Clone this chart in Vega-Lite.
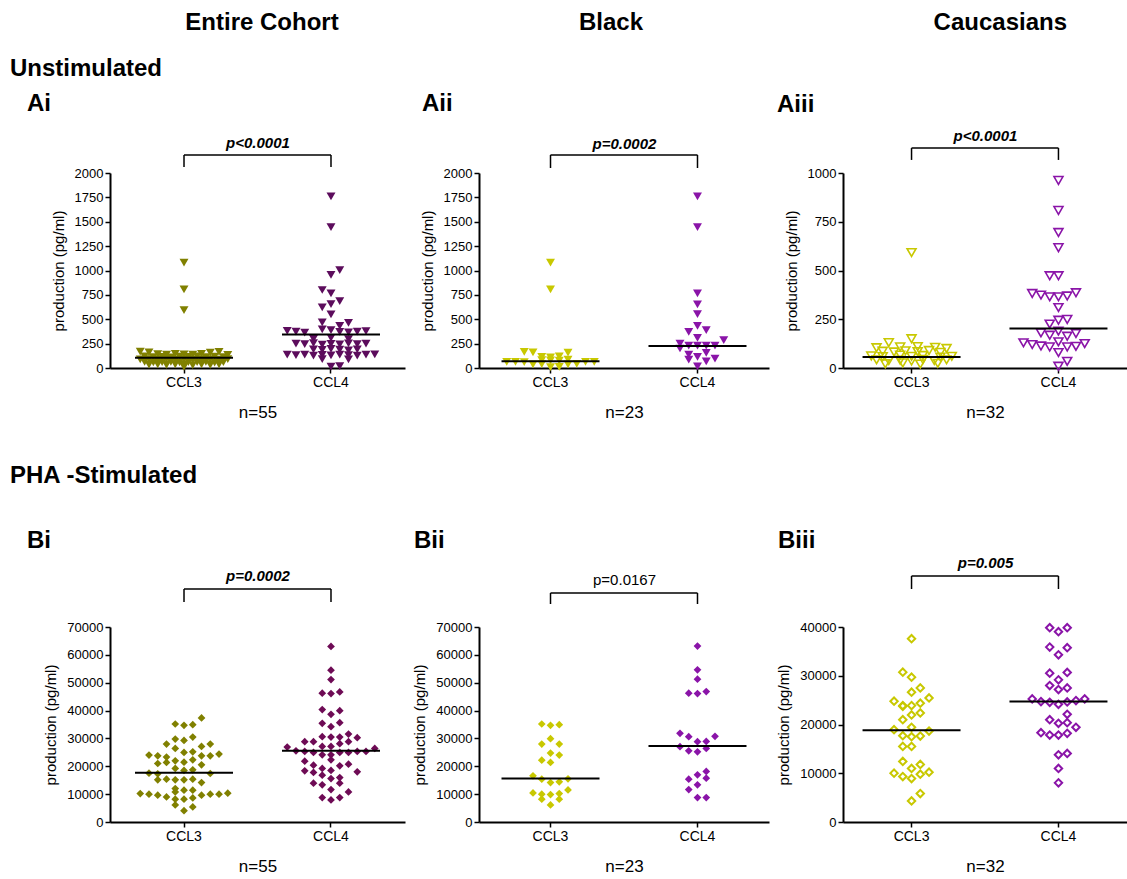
{
"$schema": "https://vega.github.io/schema/vega-lite/v6.json",
"padding": {"left": 10, "top": 11, "right": 0, "bottom": 0},
"bounds": "full",
"spacing": 15,
"resolve": {"scale": {"color": "independent", "xOffset": "independent"}},
"config": {
 "font": "Liberation Sans",
 "view": {"stroke": null},
 "axis": {"grid": false, "domainColor": "#000", "domainWidth": 2, "tickColor": "#000", "tickWidth": 1.5, "tickSize": 5, "labelColor": "#000", "labelFontSize": 13, "titleColor": "#000", "titleFontWeight": "normal"},
 "axisY": {"titleFontSize": 15, "titlePadding": 8, "labelPadding": 2, "labelOverlap": false},
 "axisX": {"labelAngle": 0, "labelFontSize": 14, "titleFontSize": 17, "titlePadding": 15, "labelPadding": 2},
 "title": {"fontSize": 24, "fontWeight": "bold", "color": "#000", "baseline": "alphabetic"}
},
"datasets": {
 "ai": [
{"g":"CCL3","v":1080,"dx":0},{"g":"CCL3","v":806,"dx":0},{"g":"CCL3","v":593,"dx":0},
{"g":"CCL3","v":168,"dx":-5},{"g":"CCL3","v":160,"dx":-4},{"g":"CCL3","v":158,"dx":3},{"g":"CCL3","v":165,"dx":4},
{"g":"CCL3","v":142,"dx":-3},{"g":"CCL3","v":138,"dx":-2},{"g":"CCL3","v":145,"dx":-1},{"g":"CCL3","v":140,"dx":0},{"g":"CCL3","v":136,"dx":1},{"g":"CCL3","v":144,"dx":2},{"g":"CCL3","v":135,"dx":5},
{"g":"CCL3","v":118,"dx":-4.5},{"g":"CCL3","v":112,"dx":-3.5},{"g":"CCL3","v":115,"dx":-2.5},{"g":"CCL3","v":110,"dx":-1.5},{"g":"CCL3","v":117,"dx":-0.5},{"g":"CCL3","v":113,"dx":0.5},{"g":"CCL3","v":119,"dx":1.5},{"g":"CCL3","v":111,"dx":2.5},{"g":"CCL3","v":116,"dx":3.5},{"g":"CCL3","v":112,"dx":4.5},
{"g":"CCL3","v":88,"dx":-5},{"g":"CCL3","v":92,"dx":-4},{"g":"CCL3","v":85,"dx":-3},{"g":"CCL3","v":90,"dx":-2},{"g":"CCL3","v":86,"dx":-1},{"g":"CCL3","v":92,"dx":0},{"g":"CCL3","v":84,"dx":1},{"g":"CCL3","v":89,"dx":2},{"g":"CCL3","v":91,"dx":3},{"g":"CCL3","v":86,"dx":4},{"g":"CCL3","v":90,"dx":5},
{"g":"CCL3","v":62,"dx":-4.5},{"g":"CCL3","v":58,"dx":-3.5},{"g":"CCL3","v":60,"dx":-2.5},{"g":"CCL3","v":64,"dx":-1.5},{"g":"CCL3","v":57,"dx":-0.5},{"g":"CCL3","v":61,"dx":0.5},{"g":"CCL3","v":59,"dx":1.5},{"g":"CCL3","v":63,"dx":2.5},{"g":"CCL3","v":56,"dx":3.5},{"g":"CCL3","v":60,"dx":4.5},
{"g":"CCL3","v":35,"dx":-4},{"g":"CCL3","v":38,"dx":-3},{"g":"CCL3","v":32,"dx":-2},{"g":"CCL3","v":36,"dx":-1},{"g":"CCL3","v":34,"dx":0},{"g":"CCL3","v":30,"dx":1},{"g":"CCL3","v":37,"dx":2},{"g":"CCL3","v":33,"dx":3},{"g":"CCL3","v":36,"dx":4},
{"g":"CCL3","v":12,"dx":0},
{"g":"CCL4","v":1760,"dx":0},{"g":"CCL4","v":1444,"dx":0},{"g":"CCL4","v":1005,"dx":1},{"g":"CCL4","v":954,"dx":0},{"g":"CCL4","v":800,"dx":-1},{"g":"CCL4","v":765,"dx":0},{"g":"CCL4","v":686,"dx":1},{"g":"CCL4","v":655,"dx":0},{"g":"CCL4","v":621,"dx":-1},{"g":"CCL4","v":549,"dx":0},{"g":"CCL4","v":467,"dx":-1},{"g":"CCL4","v":432,"dx":1},{"g":"CCL4","v":463,"dx":2},
{"g":"CCL4","v":380,"dx":-5},{"g":"CCL4","v":372,"dx":-4},{"g":"CCL4","v":362,"dx":-3},{"g":"CCL4","v":395,"dx":-1},{"g":"CCL4","v":388,"dx":0},{"g":"CCL4","v":370,"dx":1},{"g":"CCL4","v":365,"dx":2},{"g":"CCL4","v":372,"dx":3},{"g":"CCL4","v":378,"dx":4},
{"g":"CCL4","v":300,"dx":-2},{"g":"CCL4","v":310,"dx":0},{"g":"CCL4","v":295,"dx":2},
{"g":"CCL4","v":250,"dx":-4},{"g":"CCL4","v":245,"dx":-3},{"g":"CCL4","v":255,"dx":-2},{"g":"CCL4","v":240,"dx":-1},{"g":"CCL4","v":248,"dx":0},{"g":"CCL4","v":242,"dx":1},{"g":"CCL4","v":252,"dx":2},{"g":"CCL4","v":246,"dx":3},{"g":"CCL4","v":250,"dx":4},
{"g":"CCL4","v":190,"dx":-2},{"g":"CCL4","v":185,"dx":-1},{"g":"CCL4","v":195,"dx":0},{"g":"CCL4","v":188,"dx":1},{"g":"CCL4","v":180,"dx":2},{"g":"CCL4","v":192,"dx":3},
{"g":"CCL4","v":138,"dx":-5},{"g":"CCL4","v":132,"dx":-4},{"g":"CCL4","v":136,"dx":-3},{"g":"CCL4","v":128,"dx":-2},{"g":"CCL4","v":135,"dx":-1},{"g":"CCL4","v":130,"dx":0},{"g":"CCL4","v":138,"dx":1},{"g":"CCL4","v":133,"dx":2},{"g":"CCL4","v":127,"dx":3},{"g":"CCL4","v":136,"dx":4},{"g":"CCL4","v":140,"dx":5},
{"g":"CCL4","v":92,"dx":-1},{"g":"CCL4","v":88,"dx":2},
{"g":"CCL4","v":15,"dx":0},{"g":"CCL4","v":20,"dx":1}
 ],
 "aii": [
{"g":"CCL3","v":1080,"dx":0},{"g":"CCL3","v":806,"dx":0},
{"g":"CCL3","v":165,"dx":-3},{"g":"CCL3","v":160,"dx":-2},{"g":"CCL3","v":158,"dx":2},
{"g":"CCL3","v":113,"dx":-1},{"g":"CCL3","v":110,"dx":0},{"g":"CCL3","v":120,"dx":1},
{"g":"CCL3","v":82,"dx":-1},{"g":"CCL3","v":79,"dx":0},{"g":"CCL3","v":76,"dx":1},{"g":"CCL3","v":85,"dx":2},
{"g":"CCL3","v":64,"dx":-5},{"g":"CCL3","v":62,"dx":-4},{"g":"CCL3","v":60,"dx":-3},{"g":"CCL3","v":62,"dx":4},{"g":"CCL3","v":64,"dx":5},
{"g":"CCL3","v":38,"dx":-2},{"g":"CCL3","v":40,"dx":-1},{"g":"CCL3","v":36,"dx":2},{"g":"CCL3","v":42,"dx":3},
{"g":"CCL3","v":10,"dx":0},{"g":"CCL3","v":12,"dx":1},
{"g":"CCL4","v":1760,"dx":0},{"g":"CCL4","v":1444,"dx":0},{"g":"CCL4","v":765,"dx":0},{"g":"CCL4","v":652,"dx":0},{"g":"CCL4","v":552,"dx":0},{"g":"CCL4","v":432,"dx":0},
{"g":"CCL4","v":370,"dx":-1},{"g":"CCL4","v":388,"dx":1},{"g":"CCL4","v":309,"dx":0},{"g":"CCL4","v":285,"dx":3},
{"g":"CCL4","v":250,"dx":-2},{"g":"CCL4","v":200,"dx":-2},{"g":"CCL4","v":230,"dx":-1},{"g":"CCL4","v":230,"dx":0},{"g":"CCL4","v":230,"dx":1},{"g":"CCL4","v":230,"dx":2},
{"g":"CCL4","v":137,"dx":-1},{"g":"CCL4","v":154,"dx":1},{"g":"CCL4","v":86,"dx":-1},{"g":"CCL4","v":69,"dx":1},{"g":"CCL4","v":96,"dx":2},{"g":"CCL4","v":113,"dx":0},{"g":"CCL4","v":17,"dx":0}
 ],
 "aiii": [
{"g":"CCL3","v":592,"dx":0},{"g":"CCL3","v":150,"dx":0},{"g":"CCL3","v":130,"dx":-2.6},
{"g":"CCL3","v":104,"dx":-4},{"g":"CCL3","v":108,"dx":-1.3},{"g":"CCL3","v":110,"dx":0.7},{"g":"CCL3","v":106,"dx":2.7},{"g":"CCL3","v":100,"dx":4},
{"g":"CCL3","v":86,"dx":-3.3},{"g":"CCL3","v":82,"dx":-2},{"g":"CCL3","v":88,"dx":-0.7},{"g":"CCL3","v":84,"dx":0.7},{"g":"CCL3","v":90,"dx":2},{"g":"CCL3","v":80,"dx":3.3},
{"g":"CCL3","v":62,"dx":-4.6},{"g":"CCL3","v":58,"dx":-3.3},{"g":"CCL3","v":66,"dx":-1.3},{"g":"CCL3","v":60,"dx":0},{"g":"CCL3","v":64,"dx":1.3},{"g":"CCL3","v":56,"dx":3.3},{"g":"CCL3","v":60,"dx":4.6},
{"g":"CCL3","v":42,"dx":-4},{"g":"CCL3","v":38,"dx":-2.6},{"g":"CCL3","v":40,"dx":-1.3},{"g":"CCL3","v":36,"dx":0},{"g":"CCL3","v":44,"dx":1.3},{"g":"CCL3","v":38,"dx":2.6},{"g":"CCL3","v":42,"dx":4},
{"g":"CCL3","v":22,"dx":-3},{"g":"CCL3","v":26,"dx":-1},{"g":"CCL3","v":20,"dx":1},{"g":"CCL3","v":24,"dx":3},
{"g":"CCL4","v":962,"dx":0},{"g":"CCL4","v":808,"dx":0},{"g":"CCL4","v":695,"dx":0},{"g":"CCL4","v":617,"dx":0},{"g":"CCL4","v":473,"dx":-1},{"g":"CCL4","v":473,"dx":0},
{"g":"CCL4","v":382,"dx":-3},{"g":"CCL4","v":374,"dx":-2},{"g":"CCL4","v":365,"dx":-1},{"g":"CCL4","v":365,"dx":0},{"g":"CCL4","v":369,"dx":1},{"g":"CCL4","v":386,"dx":2},
{"g":"CCL4","v":310,"dx":0},{"g":"CCL4","v":245,"dx":0},{"g":"CCL4","v":249,"dx":1},{"g":"CCL4","v":225,"dx":-1},
{"g":"CCL4","v":180,"dx":-2},{"g":"CCL4","v":168,"dx":-1},{"g":"CCL4","v":189,"dx":0},{"g":"CCL4","v":163,"dx":1},{"g":"CCL4","v":177,"dx":2},
{"g":"CCL4","v":129,"dx":-4},{"g":"CCL4","v":120,"dx":-3},{"g":"CCL4","v":113,"dx":-2},{"g":"CCL4","v":108,"dx":-1},{"g":"CCL4","v":134,"dx":0},{"g":"CCL4","v":108,"dx":1},{"g":"CCL4","v":111,"dx":2},{"g":"CCL4","v":125,"dx":3},
{"g":"CCL4","v":79,"dx":0},{"g":"CCL4","v":34,"dx":1},{"g":"CCL4","v":9,"dx":0}
 ],
 "bi": [
{"g":"CCL3","v":37340,"dx":2},
{"g":"CCL3","v":35180,"dx":-1},{"g":"CCL3","v":34700,"dx":0},{"g":"CCL3","v":34940,"dx":1},
{"g":"CCL3","v":29780,"dx":-1},{"g":"CCL3","v":29300,"dx":0},{"g":"CCL3","v":30500,"dx":1},
{"g":"CCL3","v":27980,"dx":-2},{"g":"CCL3","v":26420,"dx":-1},{"g":"CCL3","v":27140,"dx":2},{"g":"CCL3","v":27980,"dx":3},
{"g":"CCL3","v":24010,"dx":-4},{"g":"CCL3","v":23770,"dx":-3},{"g":"CCL3","v":23290,"dx":-2},{"g":"CCL3","v":24970,"dx":0},{"g":"CCL3","v":25210,"dx":1},{"g":"CCL3","v":23770,"dx":2},{"g":"CCL3","v":23770,"dx":3},{"g":"CCL3","v":24370,"dx":4},
{"g":"CCL3","v":21370,"dx":-2},{"g":"CCL3","v":21970,"dx":-1},{"g":"CCL3","v":21490,"dx":0},{"g":"CCL3","v":22330,"dx":1},{"g":"CCL3","v":20530,"dx":2},{"g":"CCL3","v":21000,"dx":-3},
{"g":"CCL3","v":19210,"dx":-1},{"g":"CCL3","v":18490,"dx":0},{"g":"CCL3","v":18730,"dx":1},
{"g":"CCL3","v":17530,"dx":-4},{"g":"CCL3","v":17290,"dx":-3},{"g":"CCL3","v":17410,"dx":3},
{"g":"CCL3","v":15370,"dx":-2},{"g":"CCL3","v":15130,"dx":-1},{"g":"CCL3","v":15130,"dx":0},{"g":"CCL3","v":15370,"dx":1},{"g":"CCL3","v":14170,"dx":2},{"g":"CCL3","v":15130,"dx":-3},
{"g":"CCL3","v":12010,"dx":-1},{"g":"CCL3","v":10810,"dx":-1},{"g":"CCL3","v":11410,"dx":0},{"g":"CCL3","v":11410,"dx":1},
{"g":"CCL3","v":10210,"dx":-5},{"g":"CCL3","v":9970,"dx":-4},{"g":"CCL3","v":9610,"dx":-3},{"g":"CCL3","v":9010,"dx":-2},{"g":"CCL3","v":9610,"dx":2},{"g":"CCL3","v":9970,"dx":3},{"g":"CCL3","v":9970,"dx":4},{"g":"CCL3","v":10330,"dx":5},
{"g":"CCL3","v":8170,"dx":-1},{"g":"CCL3","v":8170,"dx":0},{"g":"CCL3","v":8650,"dx":1},
{"g":"CCL3","v":6120,"dx":-1},{"g":"CCL3","v":5400,"dx":1},{"g":"CCL3","v":4080,"dx":0},
{"g":"CCL4","v":63040,"dx":0},{"g":"CCL4","v":54510,"dx":0},{"g":"CCL4","v":51150,"dx":0},
{"g":"CCL4","v":46230,"dx":-1},{"g":"CCL4","v":46110,"dx":0},{"g":"CCL4","v":46710,"dx":1},
{"g":"CCL4","v":40340,"dx":-1},{"g":"CCL4","v":38660,"dx":0},{"g":"CCL4","v":39980,"dx":1},
{"g":"CCL4","v":35420,"dx":-1},{"g":"CCL4","v":34220,"dx":0},{"g":"CCL4","v":35660,"dx":1},
{"g":"CCL4","v":28820,"dx":-3},{"g":"CCL4","v":28820,"dx":-2},{"g":"CCL4","v":30620,"dx":-1},{"g":"CCL4","v":30500,"dx":0},{"g":"CCL4","v":30500,"dx":1},{"g":"CCL4","v":31580,"dx":2},{"g":"CCL4","v":30260,"dx":3},{"g":"CCL4","v":28100,"dx":1},{"g":"CCL4","v":28820,"dx":2},
{"g":"CCL4","v":26900,"dx":-5},{"g":"CCL4","v":25570,"dx":-4},{"g":"CCL4","v":25330,"dx":-3},{"g":"CCL4","v":24970,"dx":-2},{"g":"CCL4","v":27140,"dx":-1},{"g":"CCL4","v":27140,"dx":0},
{"g":"CCL4","v":24130,"dx":-1},{"g":"CCL4","v":24130,"dx":0},{"g":"CCL4","v":24970,"dx":1},{"g":"CCL4","v":24970,"dx":2},{"g":"CCL4","v":25330,"dx":3},{"g":"CCL4","v":25330,"dx":4},{"g":"CCL4","v":26420,"dx":5},
{"g":"CCL4","v":21850,"dx":-3},{"g":"CCL4","v":20410,"dx":-2},{"g":"CCL4","v":19210,"dx":-1},{"g":"CCL4","v":18490,"dx":0},{"g":"CCL4","v":20170,"dx":1},{"g":"CCL4","v":20770,"dx":2},
{"g":"CCL4","v":18370,"dx":-3},{"g":"CCL4","v":17770,"dx":-2},{"g":"CCL4","v":16810,"dx":-1},{"g":"CCL4","v":18010,"dx":3},
{"g":"CCL4","v":13930,"dx":-2},{"g":"CCL4","v":13330,"dx":-1},{"g":"CCL4","v":15610,"dx":0},{"g":"CCL4","v":15970,"dx":1},{"g":"CCL4","v":13930,"dx":1},
{"g":"CCL4","v":11650,"dx":0},{"g":"CCL4","v":10810,"dx":2},
{"g":"CCL4","v":8770,"dx":-1},{"g":"CCL4","v":7920,"dx":0},{"g":"CCL4","v":8770,"dx":1},{"g":"CCL4","v":22330,"dx":0}
 ],
 "bii": [
{"g":"CCL3","v":35180,"dx":-1},{"g":"CCL3","v":34700,"dx":0},{"g":"CCL3","v":34940,"dx":1},
{"g":"CCL3","v":29900,"dx":0},{"g":"CCL3","v":27980,"dx":-1},{"g":"CCL3","v":27980,"dx":1},
{"g":"CCL3","v":24730,"dx":0},{"g":"CCL3","v":24010,"dx":1},{"g":"CCL3","v":22210,"dx":-1},{"g":"CCL3","v":21370,"dx":0},
{"g":"CCL3","v":16570,"dx":-2},{"g":"CCL3","v":15370,"dx":-1},{"g":"CCL3","v":14170,"dx":0},{"g":"CCL3","v":14410,"dx":1},{"g":"CCL3","v":15490,"dx":2},
{"g":"CCL3","v":11530,"dx":2},
{"g":"CCL3","v":10450,"dx":-2},{"g":"CCL3","v":9970,"dx":-1},{"g":"CCL3","v":9850,"dx":0},{"g":"CCL3","v":10210,"dx":1},
{"g":"CCL3","v":8170,"dx":-1},{"g":"CCL3","v":8170,"dx":1},{"g":"CCL3","v":6120,"dx":0},
{"g":"CCL4","v":63160,"dx":0},{"g":"CCL4","v":54630,"dx":0},{"g":"CCL4","v":51270,"dx":0},
{"g":"CCL4","v":46230,"dx":-1},{"g":"CCL4","v":46110,"dx":0},{"g":"CCL4","v":46830,"dx":1},
{"g":"CCL4","v":31820,"dx":-2},{"g":"CCL4","v":30620,"dx":-1},{"g":"CCL4","v":30740,"dx":2},{"g":"CCL4","v":28820,"dx":0},{"g":"CCL4","v":28940,"dx":1},
{"g":"CCL4","v":27020,"dx":-2},{"g":"CCL4","v":25570,"dx":-1},{"g":"CCL4","v":25210,"dx":0},{"g":"CCL4","v":26420,"dx":1},
{"g":"CCL4","v":18130,"dx":1},{"g":"CCL4","v":16930,"dx":0},{"g":"CCL4","v":15730,"dx":1},{"g":"CCL4","v":15370,"dx":-1},
{"g":"CCL4","v":13330,"dx":0},{"g":"CCL4","v":11650,"dx":-1},{"g":"CCL4","v":8770,"dx":0},{"g":"CCL4","v":8770,"dx":1}
 ],
 "biii": [
{"g":"CCL3","v":37600,"dx":0},
{"g":"CCL3","v":30740,"dx":-1},{"g":"CCL3","v":29710,"dx":0},
{"g":"CCL3","v":26620,"dx":0},{"g":"CCL3","v":27510,"dx":1},
{"g":"CCL3","v":24770,"dx":-2},{"g":"CCL3","v":23880,"dx":-1},{"g":"CCL3","v":23880,"dx":0},{"g":"CCL3","v":24360,"dx":1},{"g":"CCL3","v":25450,"dx":2},{"g":"CCL3","v":23740,"dx":-1},
{"g":"CCL3","v":21960,"dx":0},{"g":"CCL3","v":22370,"dx":1},{"g":"CCL3","v":20990,"dx":-1},
{"g":"CCL3","v":18940,"dx":-2},{"g":"CCL3","v":19420,"dx":0},{"g":"CCL3","v":18660,"dx":2},
{"g":"CCL3","v":17700,"dx":-1},{"g":"CCL3","v":17500,"dx":0},{"g":"CCL3","v":17630,"dx":1},
{"g":"CCL3","v":15510,"dx":-1},{"g":"CCL3","v":15510,"dx":0},
{"g":"CCL3","v":12420,"dx":-1},{"g":"CCL3","v":11800,"dx":1},{"g":"CCL3","v":10980,"dx":0},
{"g":"CCL3","v":10020,"dx":-2},{"g":"CCL3","v":9330,"dx":-1},{"g":"CCL3","v":8920,"dx":0},{"g":"CCL3","v":9810,"dx":1},{"g":"CCL3","v":10220,"dx":2},
{"g":"CCL3","v":5830,"dx":1},{"g":"CCL3","v":4320,"dx":0},
{"g":"CCL4","v":39860,"dx":-1},{"g":"CCL4","v":39040,"dx":0},{"g":"CCL4","v":39860,"dx":1},
{"g":"CCL4","v":35880,"dx":-1},{"g":"CCL4","v":35750,"dx":1},{"g":"CCL4","v":34300,"dx":0},
{"g":"CCL4","v":30530,"dx":-1},{"g":"CCL4","v":30670,"dx":1},{"g":"CCL4","v":29160,"dx":0},
{"g":"CCL4","v":27990,"dx":-1},{"g":"CCL4","v":27170,"dx":0},{"g":"CCL4","v":27510,"dx":1},
{"g":"CCL4","v":25250,"dx":-3},{"g":"CCL4","v":24700,"dx":-2},{"g":"CCL4","v":24560,"dx":-1},{"g":"CCL4","v":24150,"dx":0},{"g":"CCL4","v":24630,"dx":1},{"g":"CCL4","v":24900,"dx":2},{"g":"CCL4","v":25250,"dx":3},
{"g":"CCL4","v":22090,"dx":1},
{"g":"CCL4","v":20990,"dx":-1},{"g":"CCL4","v":20240,"dx":0},{"g":"CCL4","v":20380,"dx":1},{"g":"CCL4","v":19420,"dx":2},
{"g":"CCL4","v":18320,"dx":-2},{"g":"CCL4","v":17840,"dx":-1},{"g":"CCL4","v":17840,"dx":0},{"g":"CCL4","v":18180,"dx":1},
{"g":"CCL4","v":13790,"dx":0},{"g":"CCL4","v":14060,"dx":1},{"g":"CCL4","v":10980,"dx":0},{"g":"CCL4","v":8030,"dx":0}
 ]
},
"vconcat": [
 {"hconcat": [
   {"width": 304, "height": 1, "title": {"text": "Entire Cohort", "anchor": "middle", "offset": 6}, "data": {"values": []}, "mark": "text", "encoding": {}},
   {"width": 394, "height": 1, "title": {"text": "Black", "anchor": "middle", "offset": 6}, "data": {"values": []}, "mark": "text", "encoding": {}},
   {"width": 259, "height": 1, "title": {"text": "Caucasians", "anchor": "end", "offset": 6}, "data": {"values": []}, "mark": "text", "encoding": {}}
  ], "spacing": 0, "bounds": "flush"},
 {"vconcat": [
  {"hconcat": [
   {"width": 295, "height": 195,
    "title": {"text": "Ai", "anchor": "start", "frame": "group", "dx": -83, "offset": 19},
    "layer": [
     {"data": {"name": "ai"},
      "mark": {"type": "point", "shape": "triangle-down", "filled": true, "size": 80, "opacity": 1},
      "encoding": {
       "x": {"field": "g", "type": "nominal", "scale": {"domain": ["CCL3","CCL4"], "paddingInner": 0.333, "paddingOuter": 0.17}, "axis": {"title": "n=55"}},
       "xOffset": {"field": "dx", "type": "quantitative", "scale": {"domain": [-5.6, 5.6]}},
       "y": {"field": "v", "type": "quantitative", "scale": {"domain": [0, 2000]}, "axis": {"values": [0,250,500,750,1000,1250,1500,1750,2000], "format": "d", "title": "production (pg/ml)"}},
       "color": {"field": "g", "type": "nominal", "scale": {"domain": ["CCL3","CCL4"], "range": ["#808000","#5c0c5c"]}, "legend": null}}},
     {"data": {"values": [{"g":"CCL3","m":106},{"g":"CCL4","m":343}]},
      "mark": {"type": "tick", "orient": "horizontal", "size": 98, "thickness": 2, "color": "#000", "opacity": 1},
      "encoding": {"x": {"field": "g", "type": "nominal", "axis": null, "scale": {"domain": ["CCL3","CCL4"]}}, "y": {"field": "m", "type": "quantitative", "scale": {"domain": [0, 2000]}, "axis": {"values": [0,250,500,750,1000,1250,1500,1750,2000], "format": "d", "title": "production (pg/ml)"}}}},
     {"data": {"values": [{}]},
      "mark": {"type": "rule", "color": "#000", "strokeWidth": 1.5},
      "encoding": {"x": {"datum": "CCL3", "type": "nominal", "scale": {"domain": ["CCL3","CCL4"]}, "axis": {"orient": "top", "title": "p<0.0001", "labels": false, "ticks": false, "domain": false, "minExtent": 0, "titleFontSize": 15, "titleFontStyle": "italic", "titleFontWeight": "bold", "titleBaseline": "alphabetic", "titlePadding": 26}},
       "x2": {"datum": "CCL4"}, "y": {"datum": 2185, "type": "quantitative", "scale": {"domain": [0, 2000]}, "axis": {"values": [0,250,500,750,1000,1250,1500,1750,2000], "format": "d", "title": "production (pg/ml)"}}}},
     {"data": {"values": [{"g":"CCL3"},{"g":"CCL4"}]},
      "mark": {"type": "rule", "color": "#000", "strokeWidth": 1.5},
      "encoding": {"x": {"field": "g", "type": "nominal", "axis": null, "scale": {"domain": ["CCL3","CCL4"]}}, "y": {"datum": 2185, "type": "quantitative", "scale": {"domain": [0, 2000]}, "axis": {"values": [0,250,500,750,1000,1250,1500,1750,2000], "format": "d", "title": "production (pg/ml)"}}, "y2": {"datum": 2062}}}
    ],
    "resolve": {"axis": {"x": "independent"}}},
   {"width": 290, "height": 195,
    "title": {"text": "Aii", "anchor": "start", "frame": "group", "dx": -57, "offset": 20},
    "layer": [
     {"data": {"name": "aii"},
      "mark": {"type": "point", "shape": "triangle-down", "filled": true, "size": 80, "opacity": 1},
      "encoding": {
       "x": {"field": "g", "type": "nominal", "scale": {"domain": ["CCL3","CCL4"], "paddingInner": 0.333, "paddingOuter": 0.153}, "axis": {"title": "n=23"}},
       "xOffset": {"field": "dx", "type": "quantitative", "scale": {"domain": [-5.6, 5.6]}},
       "y": {"field": "v", "type": "quantitative", "scale": {"domain": [0, 2000]}, "axis": {"values": [0,250,500,750,1000,1250,1500,1750,2000], "format": "d", "title": "production (pg/ml)"}},
       "color": {"field": "g", "type": "nominal", "scale": {"domain": ["CCL3","CCL4"], "range": ["#c8c800","#8a14a8"]}, "legend": null}}},
     {"data": {"values": [{"g":"CCL3","m":69},{"g":"CCL4","m":226}]},
      "mark": {"type": "tick", "orient": "horizontal", "size": 98, "thickness": 2, "color": "#000", "opacity": 1},
      "encoding": {"x": {"field": "g", "type": "nominal", "axis": null, "scale": {"domain": ["CCL3","CCL4"]}}, "y": {"field": "m", "type": "quantitative", "scale": {"domain": [0, 2000]}, "axis": {"values": [0,250,500,750,1000,1250,1500,1750,2000], "format": "d", "title": "production (pg/ml)"}}}},
     {"data": {"values": [{}]},
      "mark": {"type": "rule", "color": "#000", "strokeWidth": 1.5},
      "encoding": {"x": {"datum": "CCL3", "type": "nominal", "scale": {"domain": ["CCL3","CCL4"]}, "axis": {"orient": "top", "title": "p=0.0002", "labels": false, "ticks": false, "domain": false, "minExtent": 0, "titleFontSize": 15, "titleFontStyle": "italic", "titleFontWeight": "bold", "titleBaseline": "alphabetic", "titlePadding": 25}},
       "x2": {"datum": "CCL4"}, "y": {"datum": 2185, "type": "quantitative", "scale": {"domain": [0, 2000]}, "axis": {"values": [0,250,500,750,1000,1250,1500,1750,2000], "format": "d", "title": "production (pg/ml)"}}}},
     {"data": {"values": [{"g":"CCL3"},{"g":"CCL4"}]},
      "mark": {"type": "rule", "color": "#000", "strokeWidth": 1.5},
      "encoding": {"x": {"field": "g", "type": "nominal", "axis": null, "scale": {"domain": ["CCL3","CCL4"]}}, "y": {"datum": 2185, "type": "quantitative", "scale": {"domain": [0, 2000]}, "axis": {"values": [0,250,500,750,1000,1250,1500,1750,2000], "format": "d", "title": "production (pg/ml)"}}, "y2": {"datum": 2051}}}
    ],
    "resolve": {"axis": {"x": "independent"}}},
   {"width": 284, "height": 195,
    "title": {"text": "Aiii", "anchor": "start", "frame": "group", "dx": -66, "offset": 11},
    "layer": [
     {"data": {"name": "aiii"},
      "mark": {"type": "point", "shape": "triangle-down", "filled": false, "strokeWidth": 1.6, "size": 80, "opacity": 1},
      "encoding": {
       "x": {"field": "g", "type": "nominal", "scale": {"domain": ["CCL3","CCL4"], "paddingInner": 0.333, "paddingOuter": 0.133}, "axis": {"title": "n=32"}},
       "xOffset": {"field": "dx", "type": "quantitative", "scale": {"domain": [-5.6, 5.6]}},
       "y": {"field": "v", "type": "quantitative", "scale": {"domain": [0, 1000]}, "axis": {"values": [0,250,500,750,1000], "format": "d", "title": "production (pg/ml)"}},
       "color": {"field": "g", "type": "nominal", "scale": {"domain": ["CCL3","CCL4"], "range": ["#c8c800","#8a14a8"]}, "legend": null}}},
     {"data": {"values": [{"g":"CCL3","m":57},{"g":"CCL4","m":202}]},
      "mark": {"type": "tick", "orient": "horizontal", "size": 98, "thickness": 2, "color": "#000", "opacity": 1},
      "encoding": {"x": {"field": "g", "type": "nominal", "axis": null, "scale": {"domain": ["CCL3","CCL4"]}}, "y": {"field": "m", "type": "quantitative", "scale": {"domain": [0, 1000]}, "axis": {"values": [0,250,500,750,1000], "format": "d", "title": "production (pg/ml)"}}}},
     {"data": {"values": [{}]},
      "mark": {"type": "rule", "color": "#000", "strokeWidth": 1.5},
      "encoding": {"x": {"datum": "CCL3", "type": "nominal", "scale": {"domain": ["CCL3","CCL4"]}, "axis": {"orient": "top", "title": "p<0.0001", "labels": false, "ticks": false, "domain": false, "minExtent": 0, "titleFontSize": 15, "titleFontStyle": "italic", "titleFontWeight": "bold", "titleBaseline": "alphabetic", "titlePadding": 33}},
       "x2": {"datum": "CCL4"}, "y": {"datum": 1128, "type": "quantitative", "scale": {"domain": [0, 1000]}, "axis": {"values": [0,250,500,750,1000], "format": "d", "title": "production (pg/ml)"}}}},
     {"data": {"values": [{"g":"CCL3"},{"g":"CCL4"}]},
      "mark": {"type": "rule", "color": "#000", "strokeWidth": 1.5},
      "encoding": {"x": {"field": "g", "type": "nominal", "axis": null, "scale": {"domain": ["CCL3","CCL4"]}}, "y": {"datum": 1128, "type": "quantitative", "scale": {"domain": [0, 1000]}, "axis": {"values": [0,250,500,750,1000], "format": "d", "title": "production (pg/ml)"}}, "y2": {"datum": 1067}}}
    ],
    "resolve": {"axis": {"x": "independent"}}}
  ], "spacing": 74, "bounds": "flush",
  "title": {"text": "Unstimulated", "anchor": "start", "dx": -17, "offset": 11},
  "resolve": {"scale": {"color": "independent", "xOffset": "independent"}}},
  {"hconcat": [
   {"width": 295, "height": 195,
    "title": {"text": "Bi", "anchor": "start", "frame": "group", "dx": -83, "offset": 15},
    "layer": [
     {"data": {"name": "bi"},
      "mark": {"type": "point", "shape": "diamond", "filled": true, "size": 60, "opacity": 1},
      "encoding": {
       "x": {"field": "g", "type": "nominal", "scale": {"domain": ["CCL3","CCL4"], "paddingInner": 0.333, "paddingOuter": 0.17}, "axis": {"title": "n=55"}},
       "xOffset": {"field": "dx", "type": "quantitative", "scale": {"domain": [-5.6, 5.6]}},
       "y": {"field": "v", "type": "quantitative", "scale": {"domain": [0, 70000]}, "axis": {"values": [0,10000,20000,30000,40000,50000,60000,70000], "format": "d", "title": "production (pg/ml)"}},
       "color": {"field": "g", "type": "nominal", "scale": {"domain": ["CCL3","CCL4"], "range": ["#808000","#6e0b55"]}, "legend": null}}},
     {"data": {"values": [{"g":"CCL3","m":17650},{"g":"CCL4","m":25580}]},
      "mark": {"type": "tick", "orient": "horizontal", "size": 98, "thickness": 2, "color": "#000", "opacity": 1},
      "encoding": {"x": {"field": "g", "type": "nominal", "axis": null, "scale": {"domain": ["CCL3","CCL4"]}}, "y": {"field": "m", "type": "quantitative", "scale": {"domain": [0, 70000]}, "axis": {"values": [0,10000,20000,30000,40000,50000,60000,70000], "format": "d", "title": "production (pg/ml)"}}}},
     {"data": {"values": [{}]},
      "mark": {"type": "rule", "color": "#000", "strokeWidth": 1.5},
      "encoding": {"x": {"datum": "CCL3", "type": "nominal", "scale": {"domain": ["CCL3","CCL4"]}, "axis": {"orient": "top", "title": "p=0.0002", "labels": false, "ticks": false, "domain": false, "minExtent": 0, "titleFontSize": 15, "titleFontStyle": "italic", "titleFontWeight": "bold", "titleBaseline": "alphabetic", "titlePadding": 47}},
       "x2": {"datum": "CCL4"}, "y": {"datum": 83640, "type": "quantitative", "scale": {"domain": [0, 70000]}, "axis": {"values": [0,10000,20000,30000,40000,50000,60000,70000], "format": "d", "title": "production (pg/ml)"}}}},
     {"data": {"values": [{"g":"CCL3"},{"g":"CCL4"}]},
      "mark": {"type": "rule", "color": "#000", "strokeWidth": 1.5},
      "encoding": {"x": {"field": "g", "type": "nominal", "axis": null, "scale": {"domain": ["CCL3","CCL4"]}}, "y": {"datum": 83640, "type": "quantitative", "scale": {"domain": [0, 70000]}, "axis": {"values": [0,10000,20000,30000,40000,50000,60000,70000], "format": "d", "title": "production (pg/ml)"}}, "y2": {"datum": 78970}}}
    ],
    "resolve": {"axis": {"x": "independent"}}},
   {"width": 290, "height": 195,
    "title": {"text": "Bii", "anchor": "start", "frame": "group", "dx": -65, "offset": 19},
    "layer": [
     {"data": {"name": "bii"},
      "mark": {"type": "point", "shape": "diamond", "filled": true, "size": 60, "opacity": 1},
      "encoding": {
       "x": {"field": "g", "type": "nominal", "scale": {"domain": ["CCL3","CCL4"], "paddingInner": 0.333, "paddingOuter": 0.153}, "axis": {"title": "n=23"}},
       "xOffset": {"field": "dx", "type": "quantitative", "scale": {"domain": [-5.6, 5.6]}},
       "y": {"field": "v", "type": "quantitative", "scale": {"domain": [0, 70000]}, "axis": {"values": [0,10000,20000,30000,40000,50000,60000,70000], "format": "d", "title": "production (pg/ml)"}},
       "color": {"field": "g", "type": "nominal", "scale": {"domain": ["CCL3","CCL4"], "range": ["#c8c800","#8a14a8"]}, "legend": null}}},
     {"data": {"values": [{"g":"CCL3","m":15610},{"g":"CCL4","m":27260}]},
      "mark": {"type": "tick", "orient": "horizontal", "size": 98, "thickness": 2, "color": "#000", "opacity": 1},
      "encoding": {"x": {"field": "g", "type": "nominal", "axis": null, "scale": {"domain": ["CCL3","CCL4"]}}, "y": {"field": "m", "type": "quantitative", "scale": {"domain": [0, 70000]}, "axis": {"values": [0,10000,20000,30000,40000,50000,60000,70000], "format": "d", "title": "production (pg/ml)"}}}},
     {"data": {"values": [{}]},
      "mark": {"type": "rule", "color": "#000", "strokeWidth": 1.5},
      "encoding": {"x": {"datum": "CCL3", "type": "nominal", "scale": {"domain": ["CCL3","CCL4"]}, "axis": {"orient": "top", "title": "p=0.0167", "labels": false, "ticks": false, "domain": false, "minExtent": 0, "titleFontSize": 15, "titleFontStyle": "normal", "titleFontWeight": "normal", "titleBaseline": "alphabetic", "titlePadding": 43}},
       "x2": {"datum": "CCL4"}, "y": {"datum": 82200, "type": "quantitative", "scale": {"domain": [0, 70000]}, "axis": {"values": [0,10000,20000,30000,40000,50000,60000,70000], "format": "d", "title": "production (pg/ml)"}}}},
     {"data": {"values": [{"g":"CCL3"},{"g":"CCL4"}]},
      "mark": {"type": "rule", "color": "#000", "strokeWidth": 1.5},
      "encoding": {"x": {"field": "g", "type": "nominal", "axis": null, "scale": {"domain": ["CCL3","CCL4"]}}, "y": {"datum": 82200, "type": "quantitative", "scale": {"domain": [0, 70000]}, "axis": {"values": [0,10000,20000,30000,40000,50000,60000,70000], "format": "d", "title": "production (pg/ml)"}}, "y2": {"datum": 78260}}}
    ],
    "resolve": {"axis": {"x": "independent"}}},
   {"width": 284, "height": 195,
    "title": {"text": "Biii", "anchor": "start", "frame": "group", "dx": -65, "offset": 2},
    "layer": [
     {"data": {"name": "biii"},
      "mark": {"type": "point", "shape": "diamond", "filled": false, "strokeWidth": 2, "size": 55, "opacity": 1},
      "encoding": {
       "x": {"field": "g", "type": "nominal", "scale": {"domain": ["CCL3","CCL4"], "paddingInner": 0.333, "paddingOuter": 0.133}, "axis": {"title": "n=32"}},
       "xOffset": {"field": "dx", "type": "quantitative", "scale": {"domain": [-5.6, 5.6]}},
       "y": {"field": "v", "type": "quantitative", "scale": {"domain": [0, 40000]}, "axis": {"values": [0,10000,20000,30000,40000], "format": "d", "title": "production (pg/ml)"}},
       "color": {"field": "g", "type": "nominal", "scale": {"domain": ["CCL3","CCL4"], "range": ["#c8c800","#8a14a8"]}, "legend": null}}},
     {"data": {"values": [{"g":"CCL3","m":18800},{"g":"CCL4","m":24700}]},
      "mark": {"type": "tick", "orient": "horizontal", "size": 98, "thickness": 2, "color": "#000", "opacity": 1},
      "encoding": {"x": {"field": "g", "type": "nominal", "axis": null, "scale": {"domain": ["CCL3","CCL4"]}}, "y": {"field": "m", "type": "quantitative", "scale": {"domain": [0, 40000]}, "axis": {"values": [0,10000,20000,30000,40000], "format": "d", "title": "production (pg/ml)"}}}},
     {"data": {"values": [{}]},
      "mark": {"type": "rule", "color": "#000", "strokeWidth": 1.5},
      "encoding": {"x": {"datum": "CCL3", "type": "nominal", "scale": {"domain": ["CCL3","CCL4"]}, "axis": {"orient": "top", "title": "p=0.005", "labels": false, "ticks": false, "domain": false, "minExtent": 0, "titleFontSize": 15, "titleFontStyle": "italic", "titleFontWeight": "bold", "titleBaseline": "alphabetic", "titlePadding": 60}},
       "x2": {"datum": "CCL4"}, "y": {"datum": 50460, "type": "quantitative", "scale": {"domain": [0, 40000]}, "axis": {"values": [0,10000,20000,30000,40000], "format": "d", "title": "production (pg/ml)"}}}},
     {"data": {"values": [{"g":"CCL3"},{"g":"CCL4"}]},
      "mark": {"type": "rule", "color": "#000", "strokeWidth": 1.5},
      "encoding": {"x": {"field": "g", "type": "nominal", "axis": null, "scale": {"domain": ["CCL3","CCL4"]}}, "y": {"datum": 50460, "type": "quantitative", "scale": {"domain": [0, 40000]}, "axis": {"values": [0,10000,20000,30000,40000], "format": "d", "title": "production (pg/ml)"}}, "y2": {"datum": 47800}}}
    ],
    "resolve": {"axis": {"x": "independent"}}}
  ], "spacing": 74, "bounds": "flush",
  "title": {"text": "PHA -Stimulated", "anchor": "start", "dx": -17, "offset": 41},
  "resolve": {"scale": {"color": "independent", "xOffset": "independent"}}}
 ], "spacing": 44, "bounds": "full",
 "resolve": {"scale": {"color": "independent", "xOffset": "independent"}}}
]
}
